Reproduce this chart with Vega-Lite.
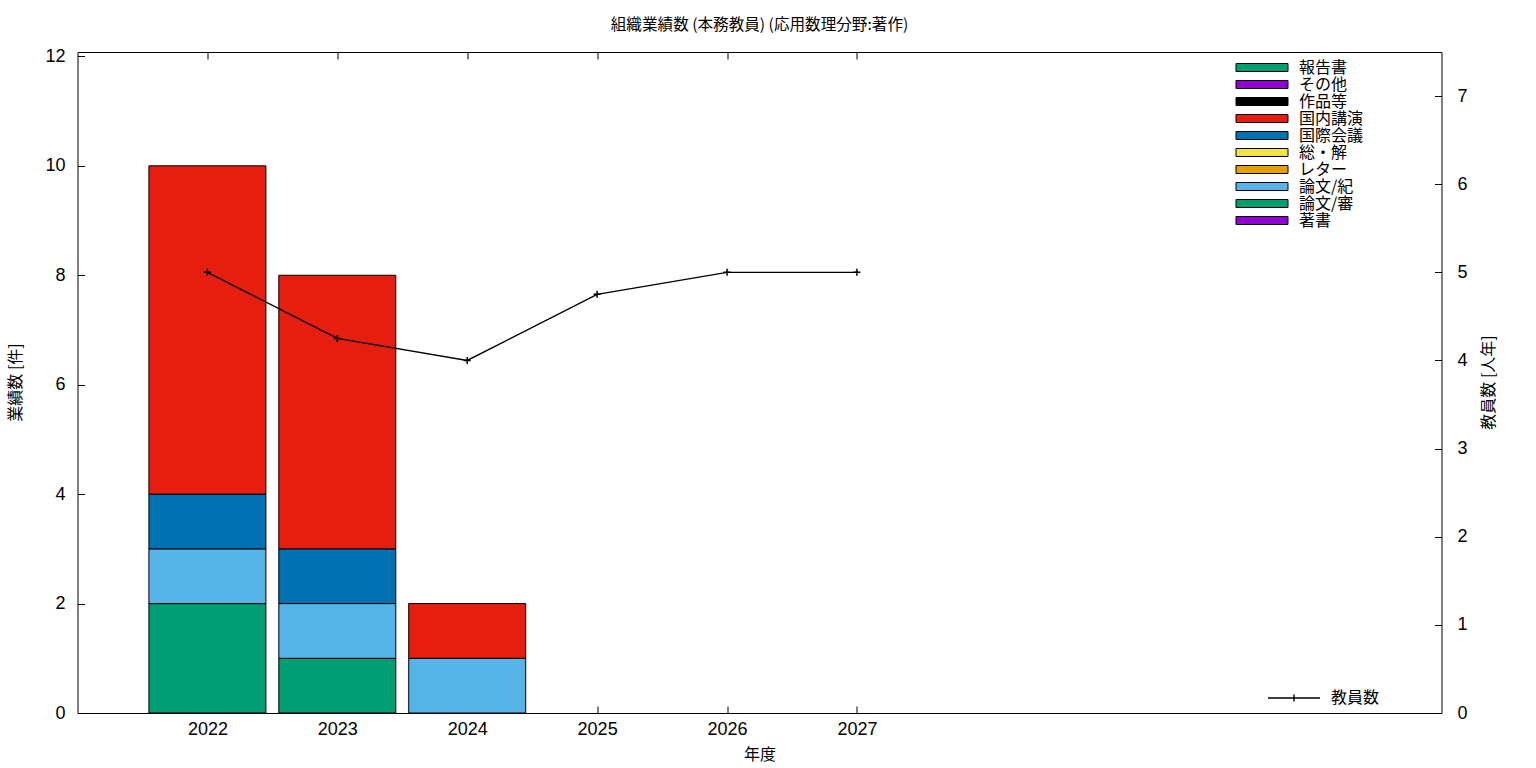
{
  "$schema": "https://vega.github.io/schema/vega-lite/v6.json",
  "width": 1364,
  "height": 661,
  "autosize": {"type": "none"},
  "padding": {"left": 77.5, "top": 52, "right": 94.5, "bottom": 55},
  "config": {
    "view": {"stroke": "black", "strokeWidth": 1},
    "font": "Noto Sans CJK JP",
    "scale": {"continuousPadding": 0},
    "axis": {
      "grid": false,
      "domain": false,
      "ticks": true,
      "tickSize": -7,
      "tickColor": "black",
      "tickWidth": 1,
      "labelColor": "black",
      "labelFont": "Liberation Sans",
      "labelFontSize": 18,
      "titleColor": "black",
      "titleFont": "Noto Sans CJK JP",
      "titleFontSize": 16,
      "titleFontWeight": "normal"
    },
    "legend": {
      "labelFont": "Noto Sans CJK JP",
      "labelFontSize": 16,
      "labelColor": "black"
    }
  },
  "title": {
    "text": "組織業績数 (本務教員) (応用数理分野:著作)",
    "font": "Noto Sans CJK JP",
    "fontSize": 15.6,
    "fontWeight": "normal",
    "color": "black",
    "anchor": "middle",
    "offset": 14
  },
  "datasets": {
    "works": [
      {"年度": 2022, "種別": "論文/審", "積順": 2, "件数": 2},
      {"年度": 2022, "種別": "論文/紀", "積順": 3, "件数": 1},
      {"年度": 2022, "種別": "国際会議", "積順": 6, "件数": 1},
      {"年度": 2022, "種別": "国内講演", "積順": 7, "件数": 6},
      {"年度": 2023, "種別": "論文/審", "積順": 2, "件数": 1},
      {"年度": 2023, "種別": "論文/紀", "積順": 3, "件数": 1},
      {"年度": 2023, "種別": "国際会議", "積順": 6, "件数": 1},
      {"年度": 2023, "種別": "国内講演", "積順": 7, "件数": 5},
      {"年度": 2024, "種別": "論文/紀", "積順": 3, "件数": 1},
      {"年度": 2024, "種別": "国内講演", "積順": 7, "件数": 1}
    ],
    "staff": [
      {"年度": 2022, "教員数": 5},
      {"年度": 2023, "教員数": 4.25},
      {"年度": 2024, "教員数": 4},
      {"年度": 2025, "教員数": 4.75},
      {"年度": 2026, "教員数": 5},
      {"年度": 2027, "教員数": 5}
    ]
  },
  "layer": [
    {
      "data": {"name": "works"},
      "mark": {"type": "bar", "size": 117, "stroke": "black", "strokeWidth": 1},
      "encoding": {
        "x": {
          "field": "年度",
          "type": "quantitative",
          "scale": {"domain": [2021, 2031.5], "nice": false, "zero": false, "padding": 0},
          "axis": {
            "orient": "bottom",
            "values": [2022, 2023, 2024, 2025, 2026, 2027],
            "format": "d",
            "labelPadding": 14,
            "title": "年度",
            "titleX": 682,
            "titleY": 41.5,
            "titleBaseline": "middle",
            "titleAlign": "center"
          }
        },
        "y": {
          "field": "件数",
          "type": "quantitative",
          "stack": "zero",
          "scale": {"domain": [0, 12.08], "nice": false},
          "axis": {
            "orient": "left",
            "values": [0, 2, 4, 6, 8, 10, 12],
            "labelPadding": 19.5,
            "title": "業績数 [件]",
            "titleX": -62.5,
            "titleY": 330,
            "titleAngle": 270,
            "titleBaseline": "middle",
            "titleAlign": "center"
          }
        },
        "order": {"field": "積順", "type": "quantitative", "sort": "ascending"},
        "color": {
          "field": "種別",
          "type": "nominal",
          "scale": {
            "domain": ["著書", "論文/審", "論文/紀", "レター", "総・解", "国際会議", "国内講演", "作品等", "その他", "報告書"],
            "range": ["#9400d3", "#009e73", "#56b4e9", "#e69f00", "#f0e442", "#0072b2", "#e51e10", "#000000", "#9400d3", "#009e73"]
          },
          "legend": {
            "title": null,
            "orient": "none",
            "legendX": 1176.5,
            "legendY": 7.5,
            "values": ["報告書", "その他", "作品等", "国内講演", "国際会議", "総・解", "レター", "論文/紀", "論文/審", "著書"],
            "symbolType": "M-6.5,-1H6.5V1H-6.5Z",
            "symbolSize": 64,
            "symbolStrokeColor": "black",
            "symbolStrokeWidth": 1,
            "symbolOpacity": 1,
            "labelOffset": 29,
            "rowPadding": 1,
            "padding": 0
          }
        }
      }
    },
    {
      "data": {"name": "staff"},
      "mark": {
        "type": "line",
        "strokeWidth": 1.4,
        "point": {"shape": "M-1,0H1M0,-1V1", "filled": false, "size": 49, "strokeWidth": 1.5, "stroke": "black"}
      },
      "encoding": {
        "x": {
          "field": "年度",
          "type": "quantitative",
          "axis": {
            "orient": "top",
            "values": [2022, 2023, 2024, 2025, 2026, 2027],
            "labels": false,
            "title": null
          }
        },
        "y": {
          "field": "教員数",
          "type": "quantitative",
          "scale": {"domain": [0, 7.5], "nice": false},
          "axis": {
            "orient": "right",
            "values": [0, 1, 2, 3, 4, 5, 6, 7],
            "labelPadding": 22.5,
            "title": "教員数 [人年]",
            "titleX": 47,
            "titleY": 330,
            "titleAngle": 270,
            "titleBaseline": "middle",
            "titleAlign": "center"
          }
        },
        "stroke": {
          "datum": "教員数",
          "type": "nominal",
          "scale": {"range": ["black"]},
          "legend": {
            "title": null,
            "orient": "none",
            "legendX": 1208.5,
            "legendY": 638,
            "symbolType": "M-6.5,0H6.5M0,-0.9V0.9",
            "symbolSize": 64,
            "symbolStrokeWidth": 1.4,
            "labelOffset": 29,
            "padding": 0
          }
        }
      }
    }
  ],
  "resolve": {"scale": {"y": "independent", "stroke": "independent", "color": "independent"}, "axis": {"x": "independent"}}
}
